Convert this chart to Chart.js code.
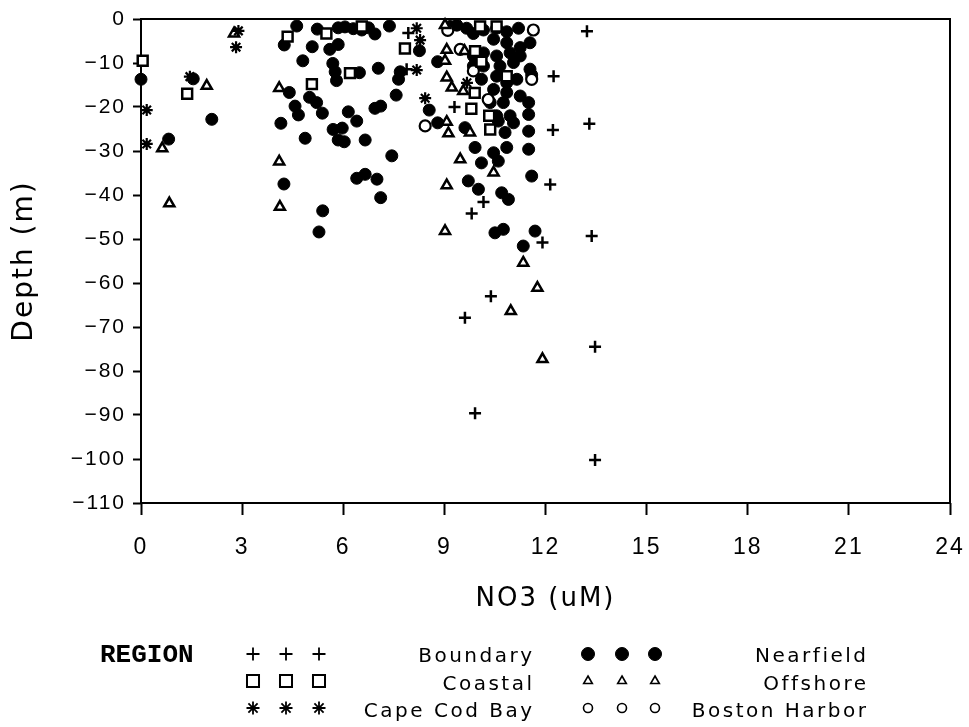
<!DOCTYPE html>
<html>
<head>
<meta charset="utf-8">
<title>NO3 vs Depth by Region</title>
<script src="https://cdn.jsdelivr.net/npm/chart.js@4.4.1/dist/chart.umd.min.js"></script>
<style>
    html, body { margin: 0; padding: 0; background: #fff; }
    #wrap { width: 969px; height: 727px; }
</style>
</head>
<body>
<div id="wrap"><canvas id="chart" width="969" height="727"></canvas></div>
<script>
// Values: NO3 (uM) against depth (m), one pair of arrays per region

const boundaryNO3 = [13.23, 12.24, 13.3, 12.22, 12.14, 10.16, 9.3, 7.93, 7.88, 9.81, 11.91, 13.37, 10.38, 9.61, 13.47, 9.91, 13.47];
const boundaryDepth = [-2.8, -13, -23.8, -25.2, -37.6, -41.6, -20, -3.2, -11.4, -44.2, -50.8, -49.3, -63, -67.9, -74.5, -89.6, -100.2];

const coastalNO3 = [0.05, 1.37, 4.35, 5.07, 5.5, 6.2, 6.55, 7.83, 9.91, 10.1, 10.06, 10.55, 10.85, 9.9, 9.8, 10.33, 10.36];
const coastalDepth = [-9.5, -17, -4.0, -14.8, -3.3, -12.3, -1.7, -6.7, -7.3, -9.7, -1.7, -1.7, -13, -16.8, -20.4, -22, -25.1];

const capeCodNO3 = [0.17, 0.17, 1.45, 2.89, 2.82, 8.18, 8.28, 8.18, 8.43, 9.67];
const capeCodDepth = [-20.7, -28.4, -13.1, -2.7, -6.4, -2.1, -4.8, -11.6, -18, -14.5];

const offshoreNO3 = [0.63, 0.84, 1.95, 2.76, 4.1, 4.1, 4.12, 9.02, 9.07, 9.6, 9.02, 9.07, 9.22, 9.56, 9.07, 9.12, 9.76, 9.47, 9.07, 10.46, 9.02, 11.34, 11.76, 10.97, 11.91];
const offshoreDepth = [-29.4, -41.9, -15.2, -3.3, -15.7, -32.4, -42.7, -1.4, -7.0, -7.3, -9.5, -13.3, -15.6, -16.4, -23.4, -26, -25.8, -31.9, -37.8, -34.9, -48.2, -55.4, -61.1, -66.4, -77.3];

const harborNO3 = [9.1, 9.47, 8.43, 10.3, 11.64, 11.59, 9.86];
const harborDepth = [-2.6, -6.9, -24.3, -18.3, -2.5, -13.7, -11.8];

const nearfieldNO3 = [
    0, 0.82, 1.55, 2.1,
    4.15, 4.24, 4.4, 4.25, 4.62, 4.8, 5.08, 5.0, 5.21, 4.57, 4.67, 4.87, 5.38, 5.23, 5.6, 5.85,
    5.69, 5.76, 5.8, 6.48, 6.15, 6.4, 5.7, 5.97, 5.85, 6.03, 6.65, 6.4, 6.65, 7.0, 5.39, 5.28, 7.11,
    5.85, 6.05, 6.3, 6.55, 6.75, 6.94, 7.37,
    8.26, 7.04, 7.69, 7.64, 7.57, 6.94, 7.11, 8.55, 7.44,
    8.8, 9.17, 9.37, 8.8,
    9.66, 9.86, 10.16, 10.55, 10.85, 11.2,
    10.46, 10.85, 11.25, 11.54,
    9.86, 10.16, 10.55, 10.95, 11.25,
    9.86, 10.16, 10.65, 11.05, 11.54, 11.59,
    10.1, 10.55, 10.85, 11.15,
    10.46, 10.85, 11.25, 11.5,
    10.36, 10.75,
    10.55, 10.95, 11.5,
    9.61, 10.6, 11.05, 11.5, 10.8,
    9.91, 10.46, 10.85, 11.5, 10.1, 10.6,
    11.59, 9.71, 10.01, 10.7, 10.9,
    10.5, 10.75, 11.69, 11.34
];
const nearfieldDepth = [
    -13.7, -27.3, -13.6, -22.8,
    -23.7, -37.5, -16.7, -5.9, -1.6, -9.5, -6.3, -17.8, -19, -19.8, -21.8, -27.1, -21.4, -2.3, -6.9, -5.8,
    -10.1, -12, -14, -12.2, -21.1, -23.2, -25.1, -24.8, -27.5, -27.9, -27.5, -36.2, -35.3, -36.4, -43.6, -48.4, -40.6,
    -2.0, -1.8, -2.2, -2.5, -2.0, -3.4, -1.6,
    -7.2, -11.2, -12, -13.7, -17.3, -20.3, -19.8, -20.7, -31.1,
    -9.7, -1.7, -1.4, -23.6,
    -2.1, -3.3, -2.5, -2.1, -2.9, -2.1,
    -4.6, -5.4, -6.5, -5.4,
    -8.4, -7.7, -8.4, -7.7, -8.4,
    -10.7, -10.7, -10.7, -9.9, -11.4, -12.7,
    -13.7, -13, -14.5, -13.7,
    -16, -16.7, -17.5, -19,
    -19, -19,
    -22, -22, -21.7,
    -24.7, -23.2, -23.6, -25.5, -25.8,
    -29.2, -30.4, -29.2, -29.6, -32.7, -32.3,
    -35.7, -36.8, -38.7, -39.5, -41,
    -48.6, -47.8, -48.2, -51.6
];

const xTickStep = 3;
const yTickStep = 10;

function toPoints(xs, ys) {
    return xs.map((x, i) => ({ x: x, y: ys[i] }));
}

// Plot frame (box on all four sides)
const framePlugin = {
    id: 'frame',
    beforeDraw(chart) {
        chart.ctx.letterSpacing = '2px';
    },
    beforeDatasetsDraw(chart) {
        const { ctx, chartArea } = chart;
        ctx.save();
        ctx.strokeStyle = '#000';
        ctx.lineWidth = 2;
        ctx.strokeRect(chartArea.left, chartArea.top, chartArea.right - chartArea.left, chartArea.bottom - chartArea.top);
        ctx.restore();
    }
};

// Legend block under the chart: REGION, then two columns of 3 symbols + label
const legendPlugin = {
    id: 'regionLegend',
    afterDraw(chart) {
        const ctx = chart.ctx;
        const symX = [[253, 286, 319], [588, 622, 655]];
        const textRight = [532, 866];
        const rowMid = [654, 681, 708];
        const rowBase = [662, 690, 717];

        ctx.save();
        ctx.fillStyle = '#000';
        ctx.letterSpacing = '0px';
        ctx.font = 'bold 26px "Liberation Mono", monospace';
        ctx.textAlign = 'left';
        ctx.textBaseline = 'alphabetic';
        ctx.fillText('REGION', 100, 662);

        chart.data.datasets.forEach(ds => {
            const [col, row] = ds.legendSlot;
            ctx.lineWidth = ds.legendWidth;
            ctx.strokeStyle = '#000';
            ctx.fillStyle = ds.backgroundColor;
            symX[col].forEach(x => {
                Chart.helpers.drawPoint(ctx, {
                    pointStyle: ds.pointStyle,
                    radius: ds.legendRadius,
                    rotation: 0,
                    borderWidth: ds.legendWidth
                }, x, rowMid[row]);
            });
            ctx.fillStyle = '#000';
            ctx.letterSpacing = '2.5px';
            ctx.font = '20px "DejaVu Sans", sans-serif';
            ctx.textAlign = 'right';
            ctx.fillText(ds.label, textRight[col] + 2.5, rowBase[row]);
        });
        ctx.restore();
    }
};

function makeSet(label, xs, ys, style, radius, fill, width, slot, legendRadius, legendWidth) {
    return {
        label: label,
        data: toPoints(xs, ys),
        pointStyle: style,
        pointRadius: radius,
        pointHoverRadius: radius,
        backgroundColor: fill,
        borderColor: '#000',
        borderWidth: width,
        pointBorderWidth: width,
        clip: false,
        legendSlot: slot,
        legendRadius: legendRadius,
        legendWidth: legendWidth
    };
}

document.addEventListener('DOMContentLoaded', () => {
    const ctx = document.getElementById('chart').getContext('2d');

    // later datasets are drawn underneath, so nearfield goes last
    const datasets = [
        makeSet('Boundary', boundaryNO3, boundaryDepth, 'cross', 6, '#000', 2.5, [0, 0], 6.5, 1.8),
        makeSet('Coastal', coastalNO3, coastalDepth, 'rect', 7, '#fff', 2.5, [0, 1], 8.5, 2),
        makeSet('Cape Cod Bay', capeCodNO3, capeCodDepth, 'star', 6, '#000', 2.2, [0, 2], 6.5, 1.8),
        makeSet('Offshore', offshoreNO3, offshoreDepth, 'triangle', 5.8, '#fff', 2.5, [1, 1], 5, 1.6),
        makeSet('Boston Harbor', harborNO3, harborDepth, 'circle', 5.5, '#fff', 2.2, [1, 2], 4.5, 1.6),
        makeSet('Nearfield', nearfieldNO3, nearfieldDepth, 'circle', 6, '#000', 1, [1, 0], 6.5, 1)
    ];

    new Chart(ctx, {
        type: 'scatter',
        data: { datasets: datasets },
        options: {
            responsive: false,
            animation: false,
            devicePixelRatio: 1,
            events: [],
            layout: { padding: { left: 0, right: 19, top: 19, bottom: 112 } },
            plugins: {
                legend: { display: false },
                tooltip: { enabled: false }
            },
            scales: {
                x: {
                    type: 'linear',
                    min: 0,
                    max: 24,
                    afterFit: scale => {
                        scale.height = 112;
                        scale.paddingLeft = 0;
                        scale.paddingRight = 0;
                    },
                    border: { display: false },
                    grid: {
                        drawOnChartArea: false,
                        drawTicks: true,
                        tickLength: 12,
                        tickWidth: 2,
                        tickColor: '#000'
                    },
                    ticks: {
                        stepSize: xTickStep,
                        color: '#000',
                        padding: 19,
                        maxRotation: 0,
                        font: { family: '"Liberation Sans", Arial, sans-serif', size: 23 }
                    },
                    title: {
                        display: true,
                        text: 'NO3 (uM)',
                        color: '#000',
                        padding: { top: 0, bottom: 0 },
                        font: { family: '"DejaVu Sans", sans-serif', size: 26 }
                    }
                },
                y: {
                    type: 'linear',
                    min: -110,
                    max: 0,
                    afterFit: scale => {
                        scale.width = 141;
                        scale.paddingTop = 0;
                        scale.paddingBottom = 0;
                    },
                    border: { display: false },
                    grid: {
                        drawOnChartArea: false,
                        drawTicks: true,
                        tickLength: 8,
                        tickWidth: 2,
                        tickColor: '#000'
                    },
                    ticks: {
                        stepSize: yTickStep,
                        color: '#000',
                        padding: 7,
                        font: { family: '"Liberation Sans", Arial, sans-serif', size: 21 },
                        callback: v => String(v).replace('-', '\u2212')
                    },
                    title: {
                        display: true,
                        text: 'Depth (m)',
                        color: '#000',
                        padding: { top: 8, bottom: 0 },
                        font: { family: '"DejaVu Sans", sans-serif', size: 28 }
                    }
                }
            }
        },
        plugins: [framePlugin, legendPlugin]
    });
});
</script>
</body>
</html>
